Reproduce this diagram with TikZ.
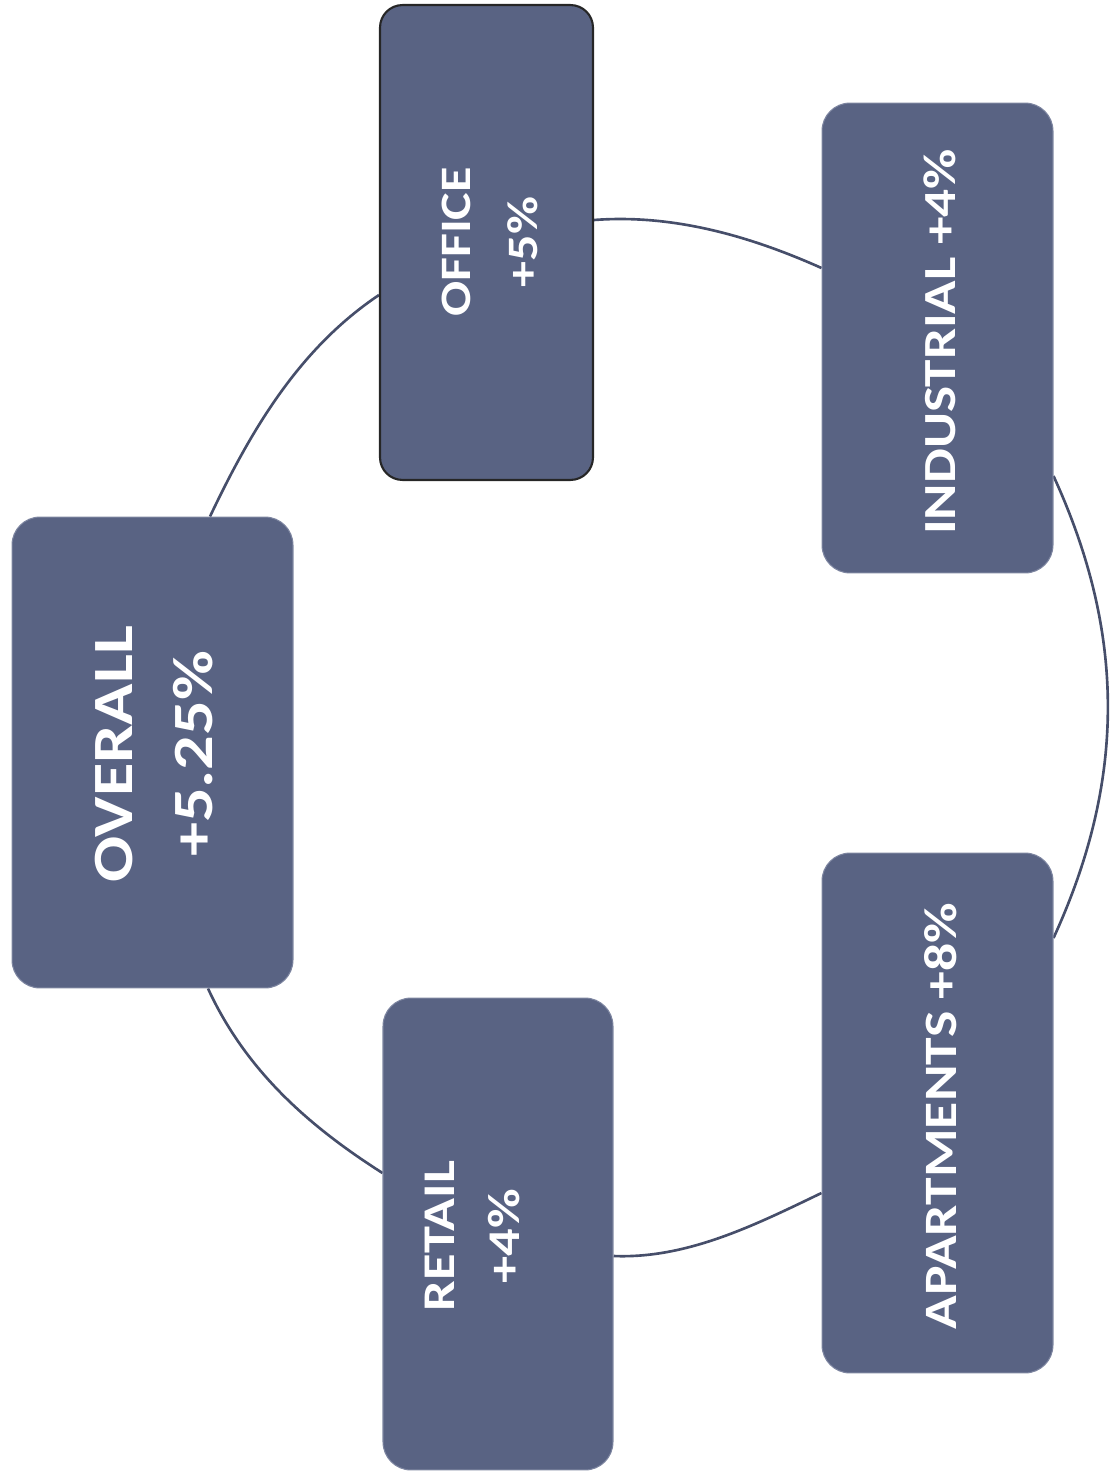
\documentclass[tikz,border=0pt]{standalone}
\usepackage{graphicx}
\usepackage{fontspec}
\setmainfont{Carlito}
\usetikzlibrary{backgrounds}
\definecolor{boxfill}{RGB}{89,99,131}
\definecolor{boxedge}{RGB}{125,133,160}
\definecolor{connclr}{RGB}{70,78,106}
\newcommand\sx[1]{\scalebox{1.2}[1]{#1}}
\tikzset{
  box/.style={rectangle, rounded corners=0.56cm, fill=boxfill, draw=boxedge, line width=0.6pt, inner sep=0pt},
  officebox/.style={box, rounded corners=0.45cm, draw=black!85, line width=1.2pt},
  lbl/.style={text=white, rotate=90, align=center, inner sep=0pt},
  conn/.style={draw=connclr, line width=1.5pt},
}
\begin{document}
\begin{tikzpicture}[x=0.02cm, y=-0.02cm]
\useasboundingbox (0,0) rectangle (1117,1478);
% boxes (positions in pixel units, y downwards)
\node[box, minimum width=5.62cm, minimum height=9.42cm] (overall) at (152.5,752.5) {};
\node[officebox, minimum width=4.26cm, minimum height=9.5cm] (office) at (486.5,242.5) {};
\node[box, minimum width=4.62cm, minimum height=9.4cm] (industrial) at (937.5,338) {};
\node[box, minimum width=4.62cm, minimum height=10.4cm] (apartments) at (937.5,1113) {};
\node[box, minimum width=4.6cm, minimum height=9.44cm] (retail) at (498,1234) {};
% connector end points on the box borders
\coordinate (c1a) at (office.west |- 0,295);
\coordinate (c1b) at (overall.north -| 210,0);
\coordinate (c2a) at (overall.south -| 208,0);
\coordinate (c2b) at (retail.west |- 0,1173);
\coordinate (c3a) at (retail.east |- 0,1256);
\coordinate (c3b) at (apartments.west |- 0,1193);
\coordinate (c4a) at (apartments.east |- 0,938);
\coordinate (c4b) at (industrial.east |- 0,476);
\coordinate (c5a) at (industrial.west |- 0,268);
\coordinate (c5b) at (office.east |- 0,220);
\begin{scope}[on background layer]
\draw[conn] (c1a) .. controls (300,348) and (252,428) .. (c1b);
\draw[conn] (c2a) .. controls (245,1069) and (307,1125) .. (c2b);
\draw[conn] (c3a) .. controls (687,1259) and (755,1225) .. (c3b);
\draw[conn] (c4a) .. controls (1126,780) and (1126,634) .. (c4b);
\draw[conn] (c5a) .. controls (750,236) and (673,214) .. (c5b);
\end{scope}
% labels
\node[lbl, font=\bfseries\fontsize{32.4}{46}\selectfont] (overall-t) at (154,754) {\sx{OVERALL}\\\sx{+5.25\%}};
\node[lbl, font=\bfseries\fontsize{24.7}{38.5}\selectfont] (office-t) at (490,242) {\sx{OFFICE}\\\sx{+5\%}};
\node[lbl, font=\bfseries\fontsize{26.2}{32}\selectfont] (industrial-t) at (940,342) {\sx{INDUSTRIAL +4\%}};
\node[lbl, font=\bfseries\fontsize{26.4}{32}\selectfont] (apartments-t) at (941,1116) {\sx{APARTMENTS +8\%}};
\node[lbl, font=\bfseries\fontsize{25.8}{37}\selectfont] (retail-t) at (472,1236) {\sx{RETAIL}\\\sx{+4\%}};
\end{tikzpicture}
\end{document}
